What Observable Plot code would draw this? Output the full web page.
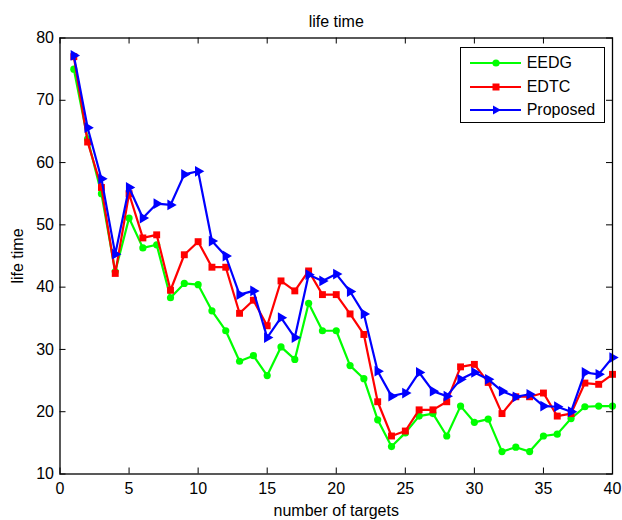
<!DOCTYPE html>
<html>
<head>
<meta charset="utf-8">
<script src="https://cdn.jsdelivr.net/npm/d3@7"></script>
<script src="https://cdn.jsdelivr.net/npm/@observablehq/plot@0.6"></script>
<style>
  body { margin: 0; background: #fff; }
  #wrap { position: relative; width: 622px; height: 520px; }
  #legend { position: absolute; left: 460px; top: 47px; width: 143px; height: 74px;
    border: 1.3px solid #000; background: #fff; font: 16px "Liberation Sans", Arial, sans-serif; }
  #legend .row { position: absolute; height: 20px; display: flex; align-items: center; }
  #legend .row span { margin-left: 5px; }
</style>
</head>
<body>
<div id="wrap"></div>
<script>
const targets = d3.range(1, 41);
const eedg = [75.0, 63.8, 55.0, 42.5, 51.1, 46.3, 46.8, 38.3, 40.6, 40.4,
  36.2, 33.0, 28.1, 29.0, 25.8, 30.4, 28.4, 37.4, 33.0, 33.0,
  27.4, 25.3, 18.7, 14.4, 16.6, 19.3, 19.7, 16.1, 20.9, 18.3,
  18.8, 13.6, 14.3, 13.6, 16.1, 16.4, 18.9, 20.8, 20.9, 20.9];
const edtc = [77.0, 63.3, 56.0, 42.2, 55.0, 47.9, 48.4, 39.5, 45.2, 47.3,
  43.2, 43.2, 35.8, 37.9, 33.8, 41.0, 39.4, 42.6, 38.8, 38.8,
  35.7, 32.4, 21.6, 16.1, 16.9, 20.3, 20.3, 21.6, 27.2, 27.6,
  24.7, 19.7, 22.4, 22.4, 23.0, 19.3, 19.7, 24.6, 24.4, 26.0];
const proposed = [77.2, 65.6, 57.4, 45.3, 56.0, 51.1, 53.4, 53.2, 58.1, 58.6,
  47.4, 45.0, 38.8, 39.4, 31.9, 35.1, 31.9, 42.0, 41.0, 42.1,
  39.3, 35.7, 26.5, 22.5, 23.0, 26.3, 23.3, 22.5, 25.2, 26.3,
  25.2, 23.3, 22.4, 22.8, 20.9, 20.8, 20.0, 26.3, 26.0, 28.7];
const seriesNames = ["EEDG", "EDTC", "Proposed"];
const seriesColors = ["#00ff00", "#ff0000", "#0000ff"];
const xTicks = [0, 5, 10, 15, 20, 25, 30, 35, 40];
const yTicks = [10, 20, 30, 40, 50, 60, 70, 80];

const rows = (vals, name) => targets.map((t, i) => ({x: t, y: vals[i], s: name}));
const dEEDG = rows(eedg, "EEDG"), dEDTC = rows(edtc, "EDTC"), dProp = rows(proposed, "Proposed");

const W = 622, H = 520, mt = 37.5, mb = 46.5, ml = 59.5, mr = 10;
const fh = H - mt - mb, fw = W - ml - mr, tk = 6;
const font = "Liberation Sans, Arial, sans-serif";

const chart = Plot.plot({
  width: W, height: H,
  marginTop: mt, marginBottom: mb, marginLeft: ml, marginRight: mr,
  style: {fontFamily: font, fontSize: "16px", color: "#000", background: "#fff"},
  x: {domain: [0, 40]},
  y: {domain: [10, 80]},
  marks: [
    Plot.axisX(xTicks, {tickSize: 0, tickPadding: 9, fontSize: 16, label: "number of targets", labelAnchor: "center", labelOffset: 41.5, labelArrow: "none"}),
    Plot.axisY(yTicks, {tickSize: 0, tickPadding: 6, fontSize: 16, label: "life time", labelAnchor: "center", labelOffset: 48.5, labelArrow: "none"}),
    Plot.tickX(xTicks, {x: d => d, insetTop: fh - tk, stroke: "#000"}),
    Plot.tickX(xTicks, {x: d => d, insetBottom: fh - tk, stroke: "#000"}),
    Plot.tickY(yTicks, {y: d => d, insetRight: fw - tk, stroke: "#000"}),
    Plot.tickY(yTicks, {y: d => d, insetLeft: fw - tk, stroke: "#000"}),
    Plot.line(dEEDG, {x: "x", y: "y", stroke: seriesColors[0], strokeWidth: 2.2}),
    Plot.dot(dEEDG, {x: "x", y: "y", fill: seriesColors[0], r: 3.6, symbol: "circle"}),
    Plot.line(dEDTC, {x: "x", y: "y", stroke: seriesColors[1], strokeWidth: 2.2}),
    Plot.dot(dEDTC, {x: "x", y: "y", fill: seriesColors[1], r: 3.9, symbol: "square"}),
    Plot.line(dProp, {x: "x", y: "y", stroke: seriesColors[2], strokeWidth: 2.2}),
    Plot.dot(dProp, {x: "x", y: "y", fill: seriesColors[2], r: 4.0, symbol: "triangle", rotate: 90}),
    Plot.frame({stroke: "#000", strokeWidth: 1.3}),
    Plot.text(["life time"], {frameAnchor: "top", lineAnchor: "bottom", dy: -11, fontSize: 16, fill: "#000"})
  ]
});
const wrap = document.getElementById("wrap");
wrap.appendChild(chart);

// legend
const leg = document.createElement("div");
leg.id = "legend";
const markerSvg = [
  '<circle cx="26" cy="10" r="3.6" fill="#00ff00"/>',
  '<rect x="22.5" y="6.5" width="7" height="7" fill="#ff0000"/>',
  '<path d="M23,5.5 L31,10 L23,14.5 Z" fill="#0000ff"/>'
];
seriesNames.forEach((name, i) => {
  const row = document.createElement("div");
  row.className = "row";
  row.style.top = (5 + i * 23.5) + "px";
  row.style.left = "8.7px";
  row.innerHTML = `<svg width="52" height="20"><line x1="0" y1="10" x2="51" y2="10" stroke="${seriesColors[i]}" stroke-width="2.2"/>${markerSvg[i]}</svg><span>${name}</span>`;
  leg.appendChild(row);
});
wrap.appendChild(leg);
</script>
</body>
</html>
